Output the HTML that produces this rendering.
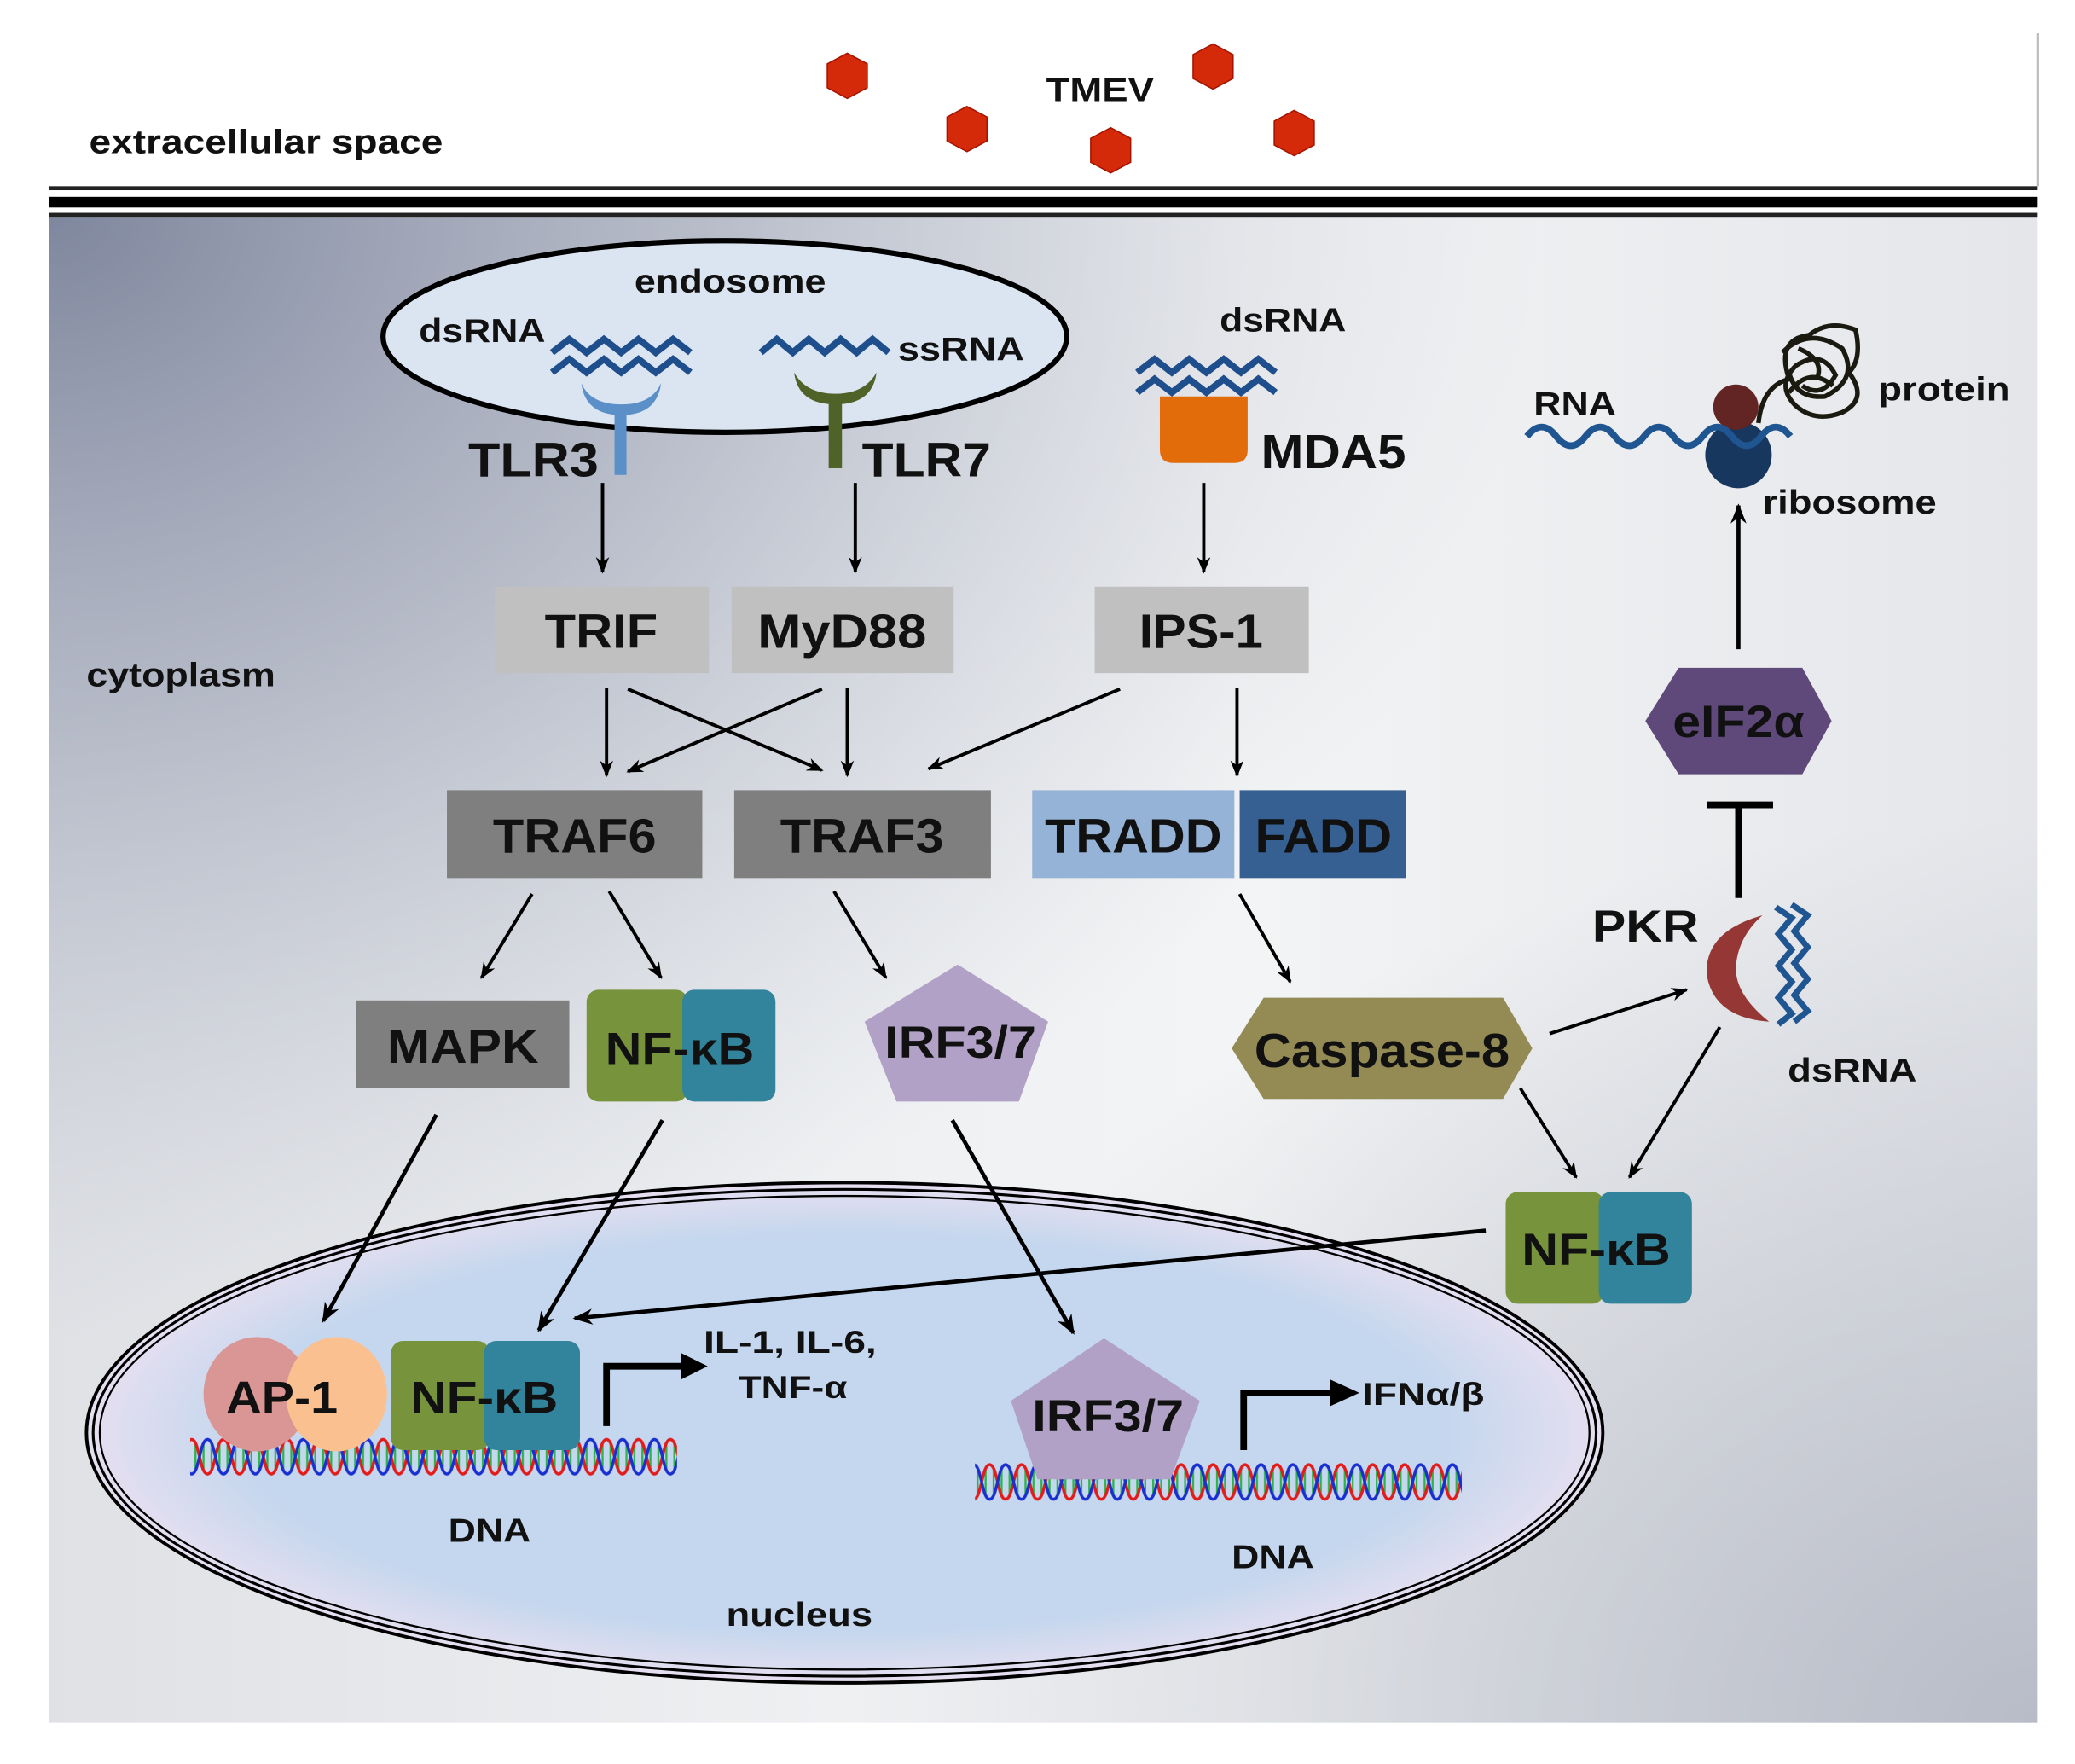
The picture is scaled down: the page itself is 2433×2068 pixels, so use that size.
<!DOCTYPE html>
<html><head><meta charset="utf-8"><style>
html,body{margin:0;padding:0;background:#fff;}
svg{display:block;}
text{font-family:"Liberation Sans",sans-serif;font-weight:bold;fill:#111;}
</style></head><body>
<svg width="2433" height="2068" viewBox="0 0 1560 1326" preserveAspectRatio="none" xmlns="http://www.w3.org/2000/svg">
<defs>
<linearGradient id="cyto" x1="0" y1="0" x2="1" y2="0">
<stop offset="0" stop-color="#dfe1e5"/>
<stop offset="0.4" stop-color="#eef0f2"/>
<stop offset="0.6" stop-color="#f3f4f5"/>
<stop offset="1" stop-color="#e4e6ea"/>
</linearGradient>
<radialGradient id="tl" cx="0" cy="0" r="0.75" fx="0" fy="0">
<stop offset="0" stop-color="#7f879e" stop-opacity="1"/>
<stop offset="0.45" stop-color="#a3a9ba" stop-opacity="0.7"/>
<stop offset="1" stop-color="#c0c4d0" stop-opacity="0"/>
</radialGradient>
<radialGradient id="corner" cx="1" cy="1" r="0.6">
<stop offset="0" stop-color="#b8bcc7" stop-opacity="1"/>
<stop offset="1" stop-color="#b8bcc7" stop-opacity="0"/>
</radialGradient>
<radialGradient id="nuc" cx="0.5" cy="0.5" r="0.5">
<stop offset="0.8" stop-color="#c5d7ee"/>
<stop offset="1" stop-color="#e6dff0"/>
</radialGradient>
<marker id="ah" viewBox="0 0 10 10" refX="9" refY="5" markerWidth="5" markerHeight="5" orient="auto" markerUnits="strokeWidth">
<path d="M0,1 L10,5 L0,9 L3,5 Z" fill="#000"/></marker>
<g id="dnaT">
<g stroke="#2db34a" stroke-width="1.5"><line x1="3" y1="4" x2="3" y2="26"/><line x1="9" y1="4" x2="9" y2="26"/><line x1="15" y1="4" x2="15" y2="26"/><line x1="21" y1="4" x2="21" y2="26"/></g>
<path d="M0,2 C6,2 6,28 12,28 C18,28 18,2 24,2" fill="none" stroke="#e21b1b" stroke-width="2.2"/>
<path d="M0,28 C6,28 6,2 12,2 C18,2 18,28 24,28" fill="none" stroke="#1a2fd0" stroke-width="2.2"/>
</g>
<pattern id="dna" x="0" y="1080" width="24" height="30" patternUnits="userSpaceOnUse"><use href="#dnaT"/></pattern>
<pattern id="dna2" x="0" y="1099" width="24" height="30" patternUnits="userSpaceOnUse"><use href="#dnaT"/></pattern>
</defs>

<!-- cytoplasm -->
<rect x="37" y="163" width="1495" height="1132" fill="url(#cyto)"/>
<rect x="37" y="163" width="1495" height="1132" fill="url(#tl)"/>
<rect x="37" y="163" width="1495" height="1132" fill="url(#corner)"/>
<line x1="1532" y1="25" x2="1532" y2="140" stroke="#bbb" stroke-width="2"/>
<!-- membrane -->
<rect x="37" y="140" width="1495" height="3" fill="#222"/>
<rect x="37" y="148" width="1495" height="8" fill="#000"/>
<rect x="37" y="160" width="1495" height="3" fill="#222"/>

<!-- TMEV -->
<g fill="#d42a0a" stroke="#a51400" stroke-width="1">
<polygon points="637,40 652,48 652,66 637,74 622,66 622,48"/>
<polygon points="727,80 742,88 742,106 727,114 712,106 712,88"/>
<polygon points="835,96 850,104 850,122 835,130 820,122 820,104"/>
<polygon points="912,33 927,41 927,59 912,67 897,59 897,41"/>
<polygon points="973,83 988,91 988,109 973,117 958,109 958,91"/>
</g>
<text x="827" y="76" font-size="25" text-anchor="middle" textLength="81" lengthAdjust="spacingAndGlyphs">TMEV</text>
<text x="67" y="115" font-size="25" textLength="266" lengthAdjust="spacingAndGlyphs">extracellular space</text>
<text x="65" y="516" font-size="25" textLength="142" lengthAdjust="spacingAndGlyphs">cytoplasm</text>

<!-- endosome -->
<ellipse cx="545" cy="253" rx="257" ry="72" fill="#dbe5f2" stroke="#000" stroke-width="4"/>
<text x="549" y="220" font-size="25" text-anchor="middle" textLength="144" lengthAdjust="spacingAndGlyphs">endosome</text>
<text x="315" y="257" font-size="25" textLength="95" lengthAdjust="spacingAndGlyphs">dsRNA</text>
<text x="675" y="271" font-size="25" textLength="95" lengthAdjust="spacingAndGlyphs">ssRNA</text>
<g fill="none" stroke="#1f4e8c" stroke-width="5">
<path d="M415,265 l13,-10 l13,10 l13,-10 l13,10 l13,-10 l13,10 l13,-10 l13,10"/>
<path d="M415,280 l13,-10 l13,10 l13,-10 l13,10 l13,-10 l13,10 l13,-10 l13,10"/>
<path d="M572,265 l12,-10 l12,10 l12,-10 l12,10 l12,-10 l12,10 l12,-10 l12,10"/>
<path d="M855,280 l13,-10 l13,10 l13,-10 l13,10 l13,-10 l13,10 l13,-10 l13,10"/>
<path d="M855,295 l13,-10 l13,10 l13,-10 l13,10 l13,-10 l13,10 l13,-10 l13,10"/>
</g>
<!-- TLR3 -->
<path d="M437,288 Q440,312 467,312 Q494,312 497,288 Q490,304 467,304 Q444,304 437,288Z" fill="#5b8fc8"/>
<rect x="462" y="305" width="9" height="52" fill="#5b8fc8"/>
<!-- TLR7 -->
<path d="M597,280 Q600,304 628,304 Q656,304 659,280 Q650,296 628,296 Q606,296 597,280Z" fill="#4f6228"/>
<rect x="623" y="298" width="10" height="54" fill="#4f6228"/>
<text x="352" y="358" font-size="36" textLength="98" lengthAdjust="spacingAndGlyphs">TLR3</text>
<text x="648" y="358" font-size="36" textLength="97" lengthAdjust="spacingAndGlyphs">TLR7</text>
<!-- MDA5 -->
<path d="M872,298 L938,298 L938,338 Q938,348 928,348 L882,348 Q872,348 872,338 Z" fill="#e36c0a"/>
<text x="917" y="249" font-size="25" textLength="95" lengthAdjust="spacingAndGlyphs">dsRNA</text>
<text x="948" y="352" font-size="36" textLength="109" lengthAdjust="spacingAndGlyphs">MDA5</text>

<g stroke="#000" stroke-width="2.5" marker-end="url(#ah)">
<line x1="453" y1="363" x2="453" y2="430"/>
<line x1="643" y1="363" x2="643" y2="430"/>
<line x1="905" y1="363" x2="905" y2="430"/>
</g>

<rect x="372" y="441" width="161" height="65" fill="#c0c0c0"/>
<rect x="550" y="441" width="167" height="65" fill="#c0c0c0"/>
<rect x="823" y="441" width="161" height="65" fill="#c0c0c0"/>
<text x="452" y="487" font-size="36" text-anchor="middle" textLength="85" lengthAdjust="spacingAndGlyphs">TRIF</text>
<text x="633" y="487" font-size="36" text-anchor="middle" textLength="127" lengthAdjust="spacingAndGlyphs">MyD88</text>
<text x="903" y="487" font-size="36" text-anchor="middle" textLength="93" lengthAdjust="spacingAndGlyphs">IPS-1</text>

<g stroke="#000" stroke-width="2.5" marker-end="url(#ah)">
<line x1="456" y1="517" x2="456" y2="583"/>
<line x1="472" y1="518" x2="618" y2="579"/>
<line x1="618" y1="518" x2="472" y2="580"/>
<line x1="637" y1="517" x2="637" y2="583"/>
<line x1="842" y1="518" x2="698" y2="578"/>
<line x1="930" y1="517" x2="930" y2="583"/>
</g>

<rect x="336" y="594" width="192" height="66" fill="#7f7f7f"/>
<rect x="552" y="594" width="193" height="66" fill="#7f7f7f"/>
<rect x="776" y="594" width="152" height="66" fill="#95b3d7"/>
<rect x="932" y="594" width="125" height="66" fill="#366092"/>
<text x="432" y="641" font-size="36" text-anchor="middle" textLength="123" lengthAdjust="spacingAndGlyphs">TRAF6</text>
<text x="648" y="641" font-size="36" text-anchor="middle" textLength="123" lengthAdjust="spacingAndGlyphs">TRAF3</text>
<text x="852" y="641" font-size="36" text-anchor="middle" textLength="133" lengthAdjust="spacingAndGlyphs">TRADD</text>
<text x="995" y="641" font-size="36" text-anchor="middle" textLength="103" lengthAdjust="spacingAndGlyphs">FADD</text>

<g stroke="#000" stroke-width="2.5" marker-end="url(#ah)">
<line x1="400" y1="672" x2="362" y2="735"/>
<line x1="458" y1="670" x2="497" y2="735"/>
<line x1="627" y1="670" x2="666" y2="735"/>
<line x1="932" y1="672" x2="970" y2="738"/>
</g>

<rect x="268" y="752" width="160" height="66" fill="#7f7f7f"/>
<text x="348" y="799" font-size="36" text-anchor="middle" textLength="114" lengthAdjust="spacingAndGlyphs">MAPK</text>
<rect x="441" y="744" width="76" height="84" rx="9" fill="#77933c"/>
<rect x="513" y="744" width="70" height="84" rx="9" fill="#31849b"/>
<text x="511" y="800" font-size="34" text-anchor="middle" textLength="112" lengthAdjust="spacingAndGlyphs">NF-κB</text>
<polygon points="720,725 788,768 766,828 674,828 650,768" fill="#b2a1c7"/>
<text x="722" y="795" font-size="34" text-anchor="middle" textLength="114" lengthAdjust="spacingAndGlyphs">IRF3/7</text>
<polygon points="950,750 1130,750 1152,788 1130,826 950,826 926,788" fill="#948a54"/>
<text x="1039" y="802" font-size="36" text-anchor="middle" textLength="192" lengthAdjust="spacingAndGlyphs">Caspase-8</text>

<!-- right side -->
<text x="1153" y="312" font-size="25" textLength="62" lengthAdjust="spacingAndGlyphs">RNA</text>
<circle cx="1307" cy="342" r="25" fill="#17375e"/>
<circle cx="1305" cy="306" r="17" fill="#632523"/>
<path d="M1148,328 q11,-14 22,0 t22,0 t22,0 t22,0 t22,0 t22,0 t22,0 t22,0 t22,0" fill="none" stroke="#1f5591" stroke-width="5"/>
<g fill="none" stroke="#1a1a10" stroke-width="3.5">
<path d="M1322,318 Q1325,290 1345,285 Q1335,255 1360,252 Q1375,240 1395,248 Q1400,270 1390,280 Q1405,300 1385,310 Q1365,318 1350,305 Q1335,290 1350,275 Q1370,262 1380,282 Q1370,300 1355,290"/>
<path d="M1340,265 Q1360,245 1385,262 Q1398,285 1372,298 Q1350,300 1345,280"/>
<path d="M1345,295 Q1360,275 1378,290 M1352,262 Q1372,270 1366,285"/>
</g>
<text x="1412" y="301" font-size="25" textLength="99" lengthAdjust="spacingAndGlyphs">protein</text>
<text x="1325" y="386" font-size="25" textLength="131" lengthAdjust="spacingAndGlyphs">ribosome</text>
<line x1="1307" y1="488" x2="1307" y2="380" stroke="#000" stroke-width="3" marker-end="url(#ah)"/>
<polygon points="1262,502 1355,502 1377,542 1355,582 1262,582 1237,542" fill="#5f497a"/>
<text x="1307" y="554" font-size="34" text-anchor="middle" textLength="99" lengthAdjust="spacingAndGlyphs">eIF2α</text>
<line x1="1307" y1="605" x2="1307" y2="675" stroke="#000" stroke-width="5"/>
<line x1="1283" y1="605" x2="1333" y2="605" stroke="#000" stroke-width="5"/>
<text x="1197" y="708" font-size="34" textLength="80" lengthAdjust="spacingAndGlyphs">PKR</text>
<path d="M1325,688 Q1282,700 1283,732 Q1288,765 1330,768 Q1305,748 1305,728 Q1306,705 1325,688 Z" fill="#953735"/>
<g fill="none" stroke="#1f5591" stroke-width="4.5">
<path d="M1335,682 l12,8 l-10,12 l10,12 l-10,12 l10,12 l-10,12 l10,12 l-10,8"/>
<path d="M1347,680 l12,8 l-10,12 l10,12 l-10,12 l10,12 l-10,12 l10,12 l-10,8"/>
</g>
<text x="1344" y="813" font-size="25" textLength="97" lengthAdjust="spacingAndGlyphs">dsRNA</text>

<g stroke="#000" stroke-width="2.5" marker-end="url(#ah)">
<line x1="1165" y1="777" x2="1268" y2="744"/>
<line x1="1143" y1="818" x2="1185" y2="885"/>
<line x1="1293" y1="772" x2="1225" y2="885"/>
</g>

<!-- nucleus -->
<ellipse cx="635" cy="1077" rx="570" ry="188" fill="url(#nuc)" stroke="#000" stroke-width="2.5"/>
<ellipse cx="635" cy="1077" rx="565" ry="183" fill="none" stroke="#000" stroke-width="2"/>
<ellipse cx="635" cy="1077" rx="560" ry="178" fill="none" stroke="#000" stroke-width="1.5"/>

<rect x="1132" y="896" width="74" height="84" rx="9" fill="#77933c"/>
<rect x="1202" y="896" width="70" height="84" rx="9" fill="#31849b"/>
<text x="1200" y="951" font-size="34" text-anchor="middle" textLength="112" lengthAdjust="spacingAndGlyphs">NF-κB</text>

<g stroke="#000" stroke-width="3" marker-end="url(#ah)">
<line x1="1117" y1="925" x2="432" y2="991"/>
<line x1="328" y1="838" x2="243" y2="993"/>
<line x1="498" y1="842" x2="405" y2="1000"/>
<line x1="716" y1="842" x2="807" y2="1002"/>
</g>

<!-- DNA -->
<rect x="143" y="1080" width="366" height="30" fill="url(#dna)"/>
<rect x="733" y="1099" width="366" height="30" fill="url(#dna2)"/>

<ellipse cx="193" cy="1048" rx="40" ry="43" fill="#da9694"/>
<ellipse cx="253" cy="1048" rx="38" ry="43" fill="#fac090"/>
<text x="212" y="1062" font-size="34" text-anchor="middle" textLength="84" lengthAdjust="spacingAndGlyphs">AP-1</text>
<rect x="294" y="1008" width="74" height="82" rx="9" fill="#77933c"/>
<rect x="364" y="1008" width="72" height="82" rx="9" fill="#31849b"/>
<text x="364" y="1062" font-size="34" text-anchor="middle" textLength="111" lengthAdjust="spacingAndGlyphs">NF-κB</text>
<polygon points="830,1006 902,1053 880,1112 780,1112 760,1053" fill="#b2a1c7"/>
<text x="833" y="1076" font-size="34" text-anchor="middle" textLength="114" lengthAdjust="spacingAndGlyphs">IRF3/7</text>

<path d="M456,1072 L456,1027 L515,1027" fill="none" stroke="#000" stroke-width="5"/>
<polygon points="512,1017 532,1027 512,1037" fill="#000"/>
<path d="M935,1090 L935,1047 L1003,1047" fill="none" stroke="#000" stroke-width="5"/>
<polygon points="1000,1037 1022,1047 1000,1057" fill="#000"/>
<text x="594" y="1017" font-size="24" text-anchor="middle" textLength="130" lengthAdjust="spacingAndGlyphs">IL-1, IL-6,</text>
<text x="596" y="1051" font-size="24" text-anchor="middle" textLength="82" lengthAdjust="spacingAndGlyphs">TNF-α</text>
<text x="1024" y="1056" font-size="24" textLength="92" lengthAdjust="spacingAndGlyphs">IFNα/β</text>
<text x="368" y="1159" font-size="25" text-anchor="middle" textLength="62" lengthAdjust="spacingAndGlyphs">DNA</text>
<text x="957" y="1179" font-size="25" text-anchor="middle" textLength="62" lengthAdjust="spacingAndGlyphs">DNA</text>
<text x="601" y="1222" font-size="25" text-anchor="middle" textLength="110" lengthAdjust="spacingAndGlyphs">nucleus</text>
</svg>
</body></html>
